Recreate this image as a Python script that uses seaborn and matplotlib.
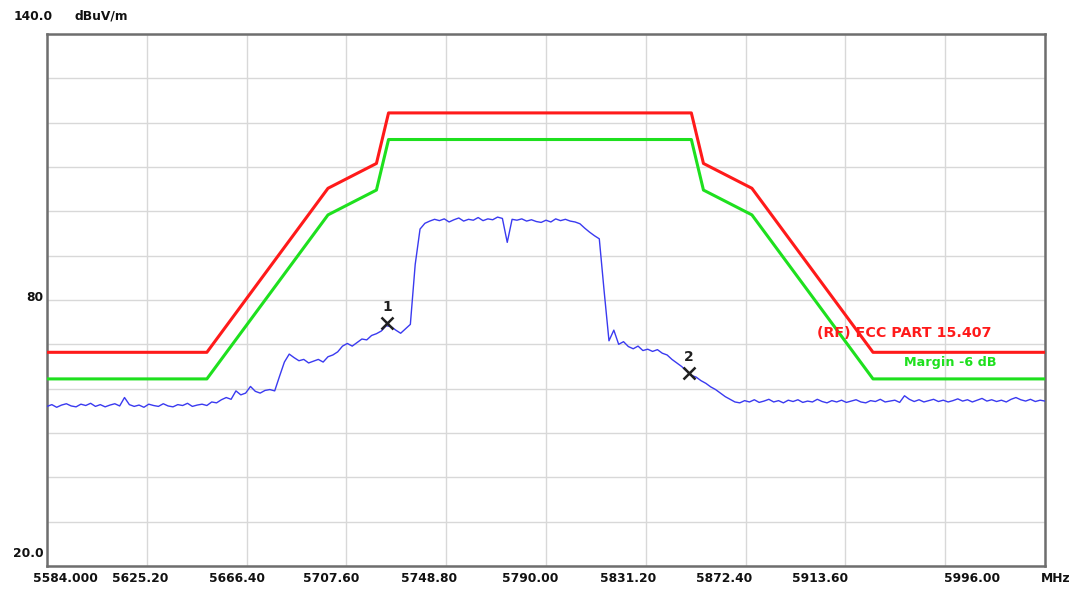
import numpy as np
import pandas as pd
import matplotlib
matplotlib.use("Agg")
import matplotlib.pyplot as plt
import seaborn as sns

# ---------------- data ----------------
sweep_start = 5584.0
sweep_stop = 5996.0

trace_dbuv = [
    # 5584 - 5650 MHz
    56.0, 56.4, 55.8, 56.3, 56.6, 56.1, 55.9, 56.5, 56.2, 56.7,
    56.0, 56.4, 55.9, 56.3, 56.6, 56.1, 58.0, 56.4, 56.0, 56.3,
    55.8, 56.5, 56.2, 56.0, 56.6, 56.1, 55.9, 56.4, 56.2, 56.7,
    56.0, 56.3, 56.5, 56.2,
    # 5652 - 5700 MHz
    57.0, 56.8, 57.5, 58.0, 57.6, 59.5, 58.6, 59.0, 60.5, 59.4,
    59.0, 59.6, 59.8, 59.5, 62.8, 66.0, 67.8, 67.0, 66.3, 66.6,
    65.8, 66.2, 66.6, 66.0, 67.2,
    # 5702 - 5744 MHz
    67.6, 68.3, 69.6, 70.2, 69.6, 70.4, 71.2, 71.0, 72.0, 72.4,
    73.0, 74.2, 74.0, 73.2, 72.5, 73.5, 74.5, 88.0, 96.0, 97.3,
    97.8, 98.2,
    # 5746 - 5810 MHz (in-band)
    97.9, 98.3, 97.6, 98.1, 98.5, 97.8, 98.2, 98.0, 98.6, 97.9,
    98.3, 98.1, 98.7, 98.4, 93.0, 98.2, 98.0, 98.3, 97.8, 98.1,
    97.7, 97.5, 98.0, 97.6, 98.3, 97.9, 98.2, 97.8, 97.6, 97.2,
    96.2, 95.3, 94.5,
    # 5812 - 5868 MHz
    93.8, 82.0, 70.8, 73.2, 70.0, 70.6, 69.5, 69.0, 69.6, 68.6,
    68.9, 68.4, 68.8, 68.0, 67.6, 66.6, 65.8, 65.0, 64.0, 63.0,
    62.6, 61.8, 61.2, 60.4, 59.8, 59.0, 58.2, 57.6, 57.0,
    # 5870 - 5996 MHz
    56.8, 57.3, 57.0, 57.5, 56.9, 57.2, 57.6, 57.0, 57.3, 56.8,
    57.4, 57.1, 57.5, 56.9, 57.2, 57.0, 57.6, 57.1, 56.8, 57.3,
    57.0, 57.4, 56.9, 57.2, 57.5, 57.0, 56.8, 57.3, 57.1, 57.6,
    57.0, 57.2, 57.4, 56.9, 58.4, 57.6, 57.1, 57.5, 57.0, 57.3,
    57.6, 57.1, 57.4, 57.0, 57.3, 57.7, 57.2, 57.5, 57.0, 57.4,
    57.8, 57.2, 57.5, 57.1, 57.4, 57.0, 57.6, 58.0, 57.5, 57.2,
    57.6, 57.1, 57.4, 57.2,
]

limit_freq = [5584.0, 5650.0, 5700.0, 5720.0, 5725.0, 5850.0, 5855.0, 5875.0, 5925.0, 5996.0]
limit_dbuv = [68.2, 68.2, 105.2, 110.8, 122.2, 122.2, 110.8, 105.2, 68.2, 68.2]
margin_dbuv = [62.2, 62.2, 99.2, 104.8, 116.2, 116.2, 104.8, 99.2, 62.2, 62.2]

marker_labels = ["1", "2"]
marker_freq = [5724.4, 5849.0]
marker_dbuv = [74.8, 63.5]

x_ticks = [5584.0, 5625.2, 5666.4, 5707.6, 5748.8, 5790.0, 5831.2, 5872.4, 5913.6, 5954.8, 5996.0]
x_tick_labels = ["5584.000", "5625.20", "5666.40", "5707.60", "5748.80", "5790.00",
                 "5831.20", "5872.40", "5913.60", "", "5996.00"]
y_min, y_max = 20.0, 140.0
y_label_texts = ["140.0", "80", "20.0"]
unit_y = "dBuV/m"
unit_x = "MHz"
limit_name = "(RF) FCC PART 15.407"
margin_name = "Margin -6 dB"

# ---------------- plot ----------------
sns.set_style("white")
plt.rcParams["font.family"] = ["DejaVu Sans"]

W, H = 1083, 592
fig = plt.figure(figsize=(W / 100, H / 100), dpi=100)
ax = fig.add_axes([47 / W, 1 - 566 / H, (1045 - 47) / W, (566 - 34) / H])

freq = np.linspace(sweep_start, sweep_stop, len(trace_dbuv))
df_trace = pd.DataFrame({"freq": freq, "level": trace_dbuv})
df_lim = pd.DataFrame({"freq": limit_freq, "limit": limit_dbuv, "margin": margin_dbuv})

sns.lineplot(data=df_lim, x="freq", y="limit", color="#FF1A1A", lw=2.2,
             estimator=None, sort=False, ax=ax, zorder=3)
sns.lineplot(data=df_lim, x="freq", y="margin", color="#1EE01E", lw=2.2,
             estimator=None, sort=False, ax=ax, zorder=3)
sns.lineplot(data=df_trace, x="freq", y="level", color="#3A3AF0", lw=1.0,
             estimator=None, sort=False, ax=ax, zorder=4)

ax.plot(marker_freq, marker_dbuv, ls="none", marker="x", ms=8, mew=1.8,
        color="#202020", zorder=5)
for lab, mf, mv in zip(marker_labels, marker_freq, marker_dbuv):
    ax.annotate(lab, (mf, mv), xytext=(0, 9), textcoords="offset pixels",
                ha="center", va="bottom", fontsize=10, fontweight="bold", color="#202020")

ax.set_xlim(sweep_start, sweep_stop)
ax.set_ylim(y_min, y_max)
ax.set_xticks(x_ticks)
ax.set_yticks(np.arange(y_min, y_max + 1, 10))
ax.set_xticklabels([])
ax.set_yticklabels([])
ax.tick_params(length=0)
ax.grid(True, color="#D8D8D8", lw=1.0)
ax.set_xlabel("")
ax.set_ylabel("")
for side in ["top", "right", "left", "bottom"]:
    ax.spines[side].set_visible(True)
    ax.spines[side].set_color("#6E6E6E")
    ax.spines[side].set_linewidth(1.8)

# x tick labels (placed like the analyser's print-out)
label_shift_px = [18, -7, -10, -15, -17, -16, -18, -21, -25, 0, -73]
lab_font = dict(fontsize=8.8, fontweight="bold", color="#111111")
for xt, lab, dx in zip(x_ticks, x_tick_labels, label_shift_px):
    if lab:
        ax.annotate(lab, (xt, y_min), xytext=(dx, -6), textcoords="offset pixels",
                    ha="center", va="top", annotation_clip=False, **lab_font)
ax.annotate(unit_x, (sweep_stop, y_min), xytext=(-4, -6), textcoords="offset pixels",
            ha="left", va="top", annotation_clip=False, **lab_font)

# y labels
ax.annotate(y_label_texts[0], (sweep_start, y_max), xytext=(6, 11), textcoords="offset pixels",
            ha="right", va="bottom", annotation_clip=False, **lab_font)
ax.annotate(unit_y, (sweep_start, y_max), xytext=(28, 11), textcoords="offset pixels",
            ha="left", va="bottom", annotation_clip=False, **lab_font)
ax.annotate(y_label_texts[1], (sweep_start, 80.0), xytext=(-4, 2), textcoords="offset pixels",
            ha="right", va="center", annotation_clip=False, **lab_font)
ax.annotate(y_label_texts[2], (sweep_start, y_min), xytext=(-3, 6), textcoords="offset pixels",
            ha="right", va="bottom", annotation_clip=False, **lab_font)

# legend-like labels near the limit lines
ax.annotate(limit_name, (sweep_stop, 68.2), xytext=(-53, 12), textcoords="offset pixels",
            ha="right", va="bottom", fontsize=10.3, fontweight="bold", color="#FF1A1A",
            annotation_clip=False)
ax.annotate(margin_name, (sweep_stop, 62.2), xytext=(-48, 10), textcoords="offset pixels",
            ha="right", va="bottom", fontsize=9.2, fontweight="bold", color="#1EE01E",
            annotation_clip=False)

fig.savefig("out.png", dpi=100, facecolor="white")
